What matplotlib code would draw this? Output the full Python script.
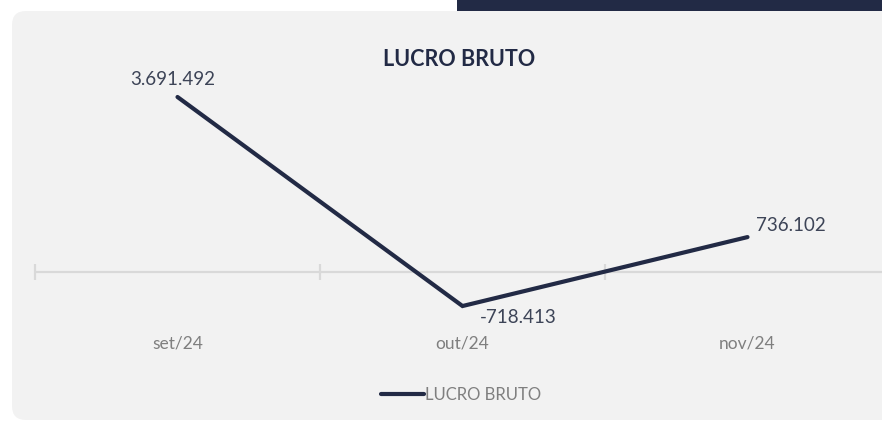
import matplotlib
matplotlib.use("Agg")
import matplotlib.pyplot as plt
from matplotlib.patches import FancyBboxPatch, Rectangle
from matplotlib.lines import Line2D

categories = ["set/24", "out/24", "nov/24"]
values = [3691492, -718413, 736102]
value_labels = ["3.691.492", "-718.413", "736.102"]
series_name = "LUCRO BRUTO"
title = "LUCRO BRUTO"

NAVY = "#222a45"
LABEL = "#3d4457"
GRAY = "#7f7f7f"
GRID = "#d9d9d9"
PANEL = "#f2f2f2"

plt.rcParams['font.family'] = ['Lato', 'DejaVu Sans']

W, H = 882, 422
fig = plt.figure(figsize=(W / 100, H / 100), dpi=100)
fig.patch.set_facecolor("white")

# background overlay axes in pixel coordinates
bg = fig.add_axes([0, 0, 1, 1], zorder=0)
bg.set_xlim(0, W)
bg.set_ylim(0, H)
bg.axis("off")
bg.add_patch(FancyBboxPatch((12, 2), 920, 409, boxstyle="round,pad=0,rounding_size=14",
                            facecolor=PANEL, edgecolor="none"))
bg.add_patch(Rectangle((457, 411), 430, 12, facecolor=NAVY, edgecolor="none"))

# main axes
left_px, right_px = 35, 890
top_px, bot_px = 80, 320
ax = fig.add_axes([left_px / W, (H - bot_px) / H, (right_px - left_px) / W, (bot_px - top_px) / H],
                  zorder=1)
ax.set_facecolor("none")
ax.set_xlim(-0.5, len(categories) - 0.5)
ax.set_ylim(-1.013e6, 4.05e6)
for s in ax.spines.values():
    s.set_visible(False)
ax.set_xticks([])
ax.set_yticks([])

x = list(range(len(categories)))
ax.axhline(0, color=GRID, lw=1.6, zorder=1)
bounds = [i - 0.5 for i in range(len(categories) + 1)]
ax.plot(bounds, [0] * len(bounds), linestyle="none", marker="|", markersize=11,
        markeredgewidth=1.6, color=GRID, zorder=1, clip_on=False)
ax.plot(x, values, color=NAVY, lw=3.0, solid_joinstyle="miter", solid_capstyle="round", zorder=3)

offsets = [(-5, 17), (56, -11), (43, 12)]
for xi, v, lab, off in zip(x, values, value_labels, offsets):
    ax.annotate(lab, (xi, v), xytext=off, textcoords="offset pixels", ha="center", va="center",
                fontsize=13.5, color=LABEL)

for xi, c in zip(x, categories):
    ax.annotate(c, (xi, 0), xytext=(0, -72), textcoords="offset pixels", ha="center", va="center",
                fontsize=12.5, color=GRAY)

fig.text(459 / W, 1 - 60 / H, title, ha="center", va="center", fontsize=15.5,
         fontweight="bold", color=NAVY)

handle = Line2D([], [], color=NAVY, lw=3.0, solid_capstyle="round")
leg = fig.legend([handle], [series_name], loc="center", bbox_to_anchor=(461 / W, 1 - 395 / H),
                 frameon=False, handlelength=2.6, handletextpad=0.05, fontsize=12)
for t in leg.get_texts():
    t.set_color(GRAY)

fig.savefig("out.png", dpi=100, facecolor="white")
